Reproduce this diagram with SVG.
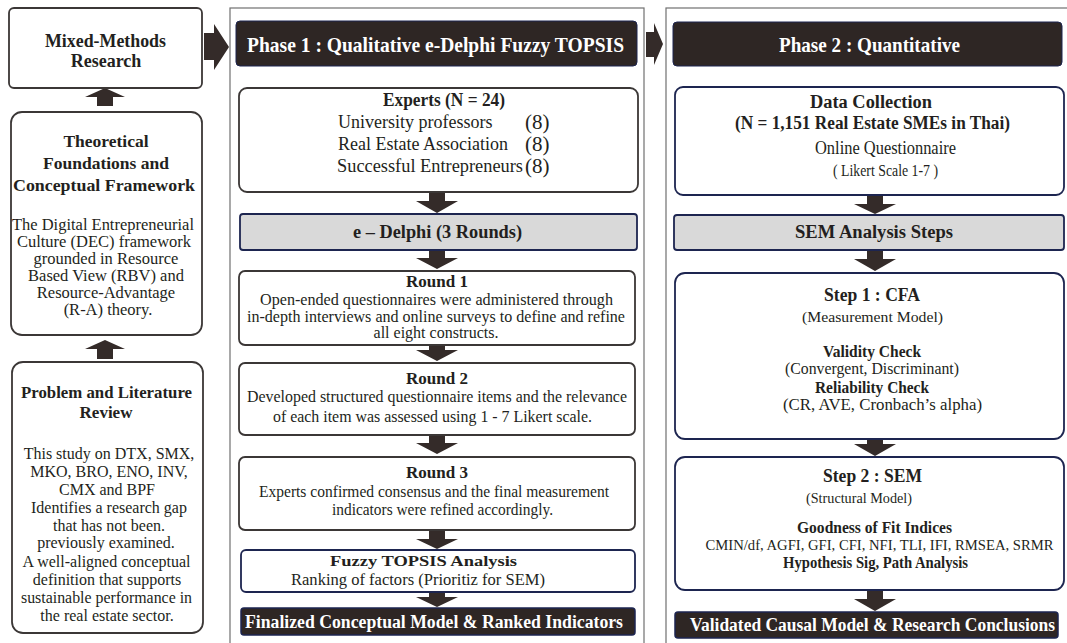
<svg xmlns="http://www.w3.org/2000/svg" width="1067" height="643" viewBox="0 0 1067 643">
  <style>
    .t { font-family: "Liberation Serif", "Times New Roman", serif; fill: #231f20; text-anchor: middle; }
    .s { text-anchor: start; }
    .b { font-weight: bold; }
    .w { fill: #ffffff; }
    .box { fill: #ffffff; stroke: #3b3736; stroke-width: 1.8; }
    .nbox { fill: #ffffff; stroke: #1d2550; stroke-width: 1.8; }
    .gbar { fill: #d9d9d9; stroke: #1d2550; stroke-width: 1.8; }
    .dark { fill: #2e2624; stroke: #1d2550; stroke-width: 1.5; }
    .head { fill: #2e2624; stroke: #1d2550; stroke-width: 1; }
    .arr { fill: #342b29; }
    .frame { fill: none; stroke: #707070; stroke-width: 1.2; }
  </style>

  <!-- phase frames -->
  <rect class="frame" x="230" y="8" width="414" height="660"/>
  <rect class="frame" x="666" y="8" width="410" height="660"/>

  <!-- connectors -->
  <g id="connectors">
    <!-- left column, upward -->
    <path class="arr" d="M97,106 V97 H85 L105,88 L125,97 H113 V106 Z"/>
    <path class="arr" d="M97,359 V349 H85 L105,340 L125,349 H113 V359 Z"/>
    <!-- sideways into the phases -->
    <path class="arr" d="M204,33 H214 V24 L229,47 L214,70 V60 H204 Z"/>
    <path class="arr" d="M646,32 H654 V23 L663,44 L654,65 V57 H646 Z"/>
    <!-- phase 1, downward -->
    <path class="arr" d="M429,193 H445 V201 H458 L437,213 L416,201 H429 Z"/>
    <path class="arr" d="M429,250 H445 V258 H458 L437,269 L416,258 H429 Z"/>
    <path class="arr" d="M429,342 H445 V350 H458 L437,361 L416,350 H429 Z"/>
    <path class="arr" d="M429,435 H445 V443 H458 L437,454 L416,443 H429 Z"/>
    <path class="arr" d="M429,531 H445 V539 H458 L437,549 L416,539 H429 Z"/>
    <path class="arr" d="M429,592 H445 V597 H458 L437,607 L416,597 H429 Z"/>
    <!-- phase 2, downward -->
    <path class="arr" d="M867,196 H883 V204 H896 L875,214 L854,204 H867 Z"/>
    <path class="arr" d="M867,250 H883 V259 H896 L875,271 L854,259 H867 Z"/>
    <path class="arr" d="M867,438 H883 V444 H896 L875,456 L854,444 H867 Z"/>
    <path class="arr" d="M867,591 H883 V599 H896 L875,611 L854,599 H867 Z"/>
  </g>

  <!-- left column -->
  <g id="mixed-methods">
    <rect class="box" x="9" y="8" width="193" height="80" rx="5"/>
    <text class="t b" x="105.5" y="46.5" font-size="18" textLength="121" lengthAdjust="spacingAndGlyphs">Mixed-Methods</text>
    <text class="t b" x="106" y="66.5" font-size="18">Research</text>
  </g>

  <g id="theory">
    <rect class="box" x="11" y="112" width="191" height="223" rx="11"/>
    <text class="t b" x="106" y="147" font-size="17.5">Theoretical</text>
    <text class="t b" x="106" y="169" font-size="17.5">Foundations and</text>
    <text class="t b" x="104" y="191" font-size="17.5" textLength="182" lengthAdjust="spacingAndGlyphs">Conceptual Framework</text>
    <text class="t" x="103" y="230" font-size="16.5" textLength="182" lengthAdjust="spacingAndGlyphs">The Digital Entrepreneurial</text>
    <text class="t" x="104" y="247" font-size="16.5">Culture (DEC) framework</text>
    <text class="t" x="106" y="264" font-size="16.5">grounded in Resource</text>
    <text class="t" x="106" y="281" font-size="16.5">Based View (RBV) and</text>
    <text class="t" x="106" y="298" font-size="16.5">Resource-Advantage</text>
    <text class="t" x="108" y="315" font-size="16.5">(R-A) theory.</text>
  </g>

  <g id="problem">
    <rect class="box" x="12" y="362" width="191" height="271" rx="11"/>
    <text class="t b" x="106.5" y="398" font-size="17" textLength="171" lengthAdjust="spacingAndGlyphs">Problem and Literature</text>
    <text class="t b" x="106" y="418" font-size="17">Review</text>
    <text class="t" x="109" y="459" font-size="16">This study on DTX, SMX,</text>
    <text class="t" x="109" y="477" font-size="16">MKO, BRO, ENO, INV,</text>
    <text class="t" x="107" y="495" font-size="16">CMX and BPF</text>
    <text class="t" x="109" y="513" font-size="16">Identifies a research gap</text>
    <text class="t" x="109" y="531" font-size="16">that has not been.</text>
    <text class="t" x="106" y="548" font-size="16">previously examined.</text>
    <text class="t" x="106.5" y="567" font-size="16">A well-aligned conceptual</text>
    <text class="t" x="107" y="585" font-size="16">definition that supports</text>
    <text class="t" x="106.5" y="603" font-size="16" textLength="171" lengthAdjust="spacingAndGlyphs">sustainable performance in</text>
    <text class="t" x="107" y="621" font-size="16">the real estate sector.</text>
  </g>

  <!-- phase 1 -->
  <g id="phase1-header">
    <rect class="head" x="236" y="21" width="401" height="45" rx="4"/>
    <text class="t b w" x="435.5" y="52" font-size="21" textLength="377" lengthAdjust="spacingAndGlyphs">Phase 1 : Qualitative e-Delphi Fuzzy TOPSIS</text>
  </g>

  <g id="experts">
    <rect class="box" x="239" y="88" width="399" height="104" rx="8"/>
    <text class="t b" x="444" y="106" font-size="18" textLength="122" lengthAdjust="spacingAndGlyphs">Experts (N = 24)</text>
    <text class="t s" x="338" y="128" font-size="18">University professors</text>
    <text class="t s" x="338" y="150" font-size="18">Real Estate Association</text>
    <text class="t s" x="337" y="172" font-size="18" textLength="186" lengthAdjust="spacingAndGlyphs">Successful Entrepreneurs</text>
    <text class="t s" x="525" y="129" font-size="21">(8)</text>
    <text class="t s" x="525" y="151" font-size="21">(8)</text>
    <text class="t s" x="525" y="173" font-size="21">(8)</text>
  </g>

  <g id="edelphi">
    <rect class="gbar" x="240" y="214" width="397" height="36" rx="3"/>
    <text class="t b" x="437.5" y="238" font-size="18" textLength="169" lengthAdjust="spacingAndGlyphs">e – Delphi (3 Rounds)</text>
  </g>

  <g id="round1">
    <rect class="box" x="239" y="271" width="396" height="74" rx="6"/>
    <text class="t b" x="437" y="287" font-size="17">Round 1</text>
    <text class="t" x="436.5" y="305" font-size="16" textLength="353" lengthAdjust="spacingAndGlyphs">Open-ended questionnaires were administered through</text>
    <text class="t" x="436" y="322" font-size="16" textLength="378" lengthAdjust="spacingAndGlyphs">in-depth interviews and online surveys to define and refine</text>
    <text class="t" x="436" y="338" font-size="16">all eight constructs.</text>
  </g>

  <g id="round2">
    <rect class="box" x="239" y="363" width="396" height="72" rx="6"/>
    <text class="t b" x="437" y="384" font-size="17">Round 2</text>
    <text class="t" x="437" y="402" font-size="16" textLength="380" lengthAdjust="spacingAndGlyphs">Developed structured questionnaire items and the relevance</text>
    <text class="t" x="432.5" y="422" font-size="16" textLength="319" lengthAdjust="spacingAndGlyphs">of each item was assessed using 1 - 7 Likert scale.</text>
  </g>

  <g id="round3">
    <rect class="box" x="239" y="457" width="396" height="73" rx="6"/>
    <text class="t b" x="437" y="478" font-size="17">Round 3</text>
    <text class="t" x="434" y="497" font-size="16" textLength="350" lengthAdjust="spacingAndGlyphs">Experts confirmed consensus and the final measurement</text>
    <text class="t" x="442.5" y="515" font-size="16" textLength="221" lengthAdjust="spacingAndGlyphs">indicators were refined accordingly.</text>
  </g>

  <g id="fuzzy-topsis">
    <rect class="nbox" x="241" y="550" width="394" height="42" rx="5"/>
    <text class="t b" x="423.5" y="566" font-size="15.5" textLength="187" lengthAdjust="spacingAndGlyphs">Fuzzy TOPSIS Analysis</text>
    <text class="t" x="418" y="585" font-size="16" textLength="254" lengthAdjust="spacingAndGlyphs">Ranking of factors (Prioritiz for SEM)</text>
  </g>

  <g id="finalized">
    <rect class="dark" x="241" y="608" width="394" height="27" rx="3"/>
    <text class="t b w" x="434" y="628" font-size="18" textLength="378" lengthAdjust="spacingAndGlyphs">Finalized Conceptual Model &amp; Ranked Indicators</text>
  </g>

  <!-- phase 2 -->
  <g id="phase2-header">
    <rect class="head" x="673" y="22" width="389" height="44" rx="4"/>
    <text class="t b w" x="869.5" y="52" font-size="21" textLength="181" lengthAdjust="spacingAndGlyphs">Phase 2 : Quantitative</text>
  </g>

  <g id="data-collection">
    <rect class="nbox" x="675" y="87" width="389" height="108" rx="8"/>
    <text class="t b" x="871" y="108" font-size="18" textLength="122" lengthAdjust="spacingAndGlyphs">Data Collection</text>
    <text class="t b" x="872.5" y="129" font-size="18" textLength="275" lengthAdjust="spacingAndGlyphs">(N = 1,151 Real Estate SMEs in Thai)</text>
    <text class="t" x="885.5" y="154" font-size="18" textLength="141" lengthAdjust="spacingAndGlyphs">Online Questionnaire</text>
    <text class="t" x="885.5" y="176" font-size="17" textLength="105" lengthAdjust="spacingAndGlyphs">( Likert Scale 1-7 )</text>
  </g>

  <g id="sem-steps">
    <rect class="gbar" x="674" y="215" width="390" height="35" rx="3"/>
    <text class="t b" x="874" y="238" font-size="18" textLength="158" lengthAdjust="spacingAndGlyphs">SEM Analysis Steps</text>
  </g>

  <g id="step1-cfa">
    <rect class="nbox" x="675" y="273" width="389" height="166" rx="10"/>
    <text class="t b" x="872" y="301" font-size="19" textLength="96" lengthAdjust="spacingAndGlyphs">Step 1 : CFA</text>
    <text class="t" x="872.5" y="322" font-size="15.5" textLength="141" lengthAdjust="spacingAndGlyphs">(Measurement Model)</text>
    <text class="t b" x="872" y="357" font-size="16" textLength="98" lengthAdjust="spacingAndGlyphs">Validity Check</text>
    <text class="t" x="872" y="374" font-size="16" textLength="174" lengthAdjust="spacingAndGlyphs">(Convergent, Discriminant)</text>
    <text class="t b" x="872" y="393" font-size="16" textLength="114" lengthAdjust="spacingAndGlyphs">Reliability Check</text>
    <text class="t" x="882.5" y="410" font-size="17" textLength="199" lengthAdjust="spacingAndGlyphs">(CR, AVE, Cronbach’s alpha)</text>
  </g>

  <g id="step2-sem">
    <rect class="nbox" x="675" y="457" width="389" height="133" rx="10"/>
    <text class="t b" x="872.5" y="482" font-size="19" textLength="99" lengthAdjust="spacingAndGlyphs">Step 2 : SEM</text>
    <text class="t" x="859" y="503" font-size="15" textLength="106" lengthAdjust="spacingAndGlyphs">(Structural  Model)</text>
    <text class="t b" x="874.5" y="533" font-size="16" textLength="155" lengthAdjust="spacingAndGlyphs">Goodness of Fit Indices</text>
    <text class="t" x="879.5" y="550" font-size="14.8" textLength="348" lengthAdjust="spacingAndGlyphs">CMIN/df, AGFI, GFI, CFI, NFI, TLI, IFI, RMSEA, SRMR</text>
    <text class="t b" x="875.5" y="568" font-size="16" textLength="185" lengthAdjust="spacingAndGlyphs">Hypothesis Sig, Path Analysis</text>
  </g>

  <g id="validated">
    <rect class="dark" x="675" y="612" width="383" height="26" rx="3"/>
    <text class="t b w" x="872.5" y="631" font-size="18" textLength="365" lengthAdjust="spacingAndGlyphs">Validated Causal Model &amp; Research Conclusions</text>
  </g>
</svg>
